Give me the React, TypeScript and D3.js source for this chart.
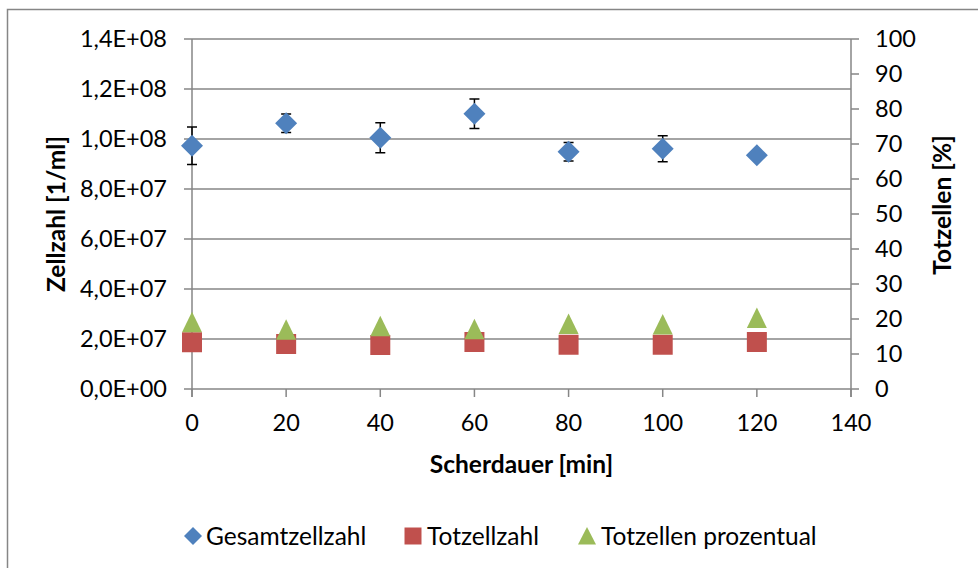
import React from "react";
import * as d3 from "d3";

const xValues = [0, 20, 40, 60, 80, 100, 120];
const gesamtzellzahl = [9.73e7, 1.063e8, 1.005e8, 1.101e8, 9.49e7, 9.61e7, 9.35e7];
const gesamtErr = [7.5e6, 3.7e6, 6.0e6, 5.9e6, 3.7e6, 5.2e6, 0];
const totzellzahl = [1.87e7, 1.8e7, 1.76e7, 1.88e7, 1.77e7, 1.77e7, 1.88e7];
const totzellenProzent = [19.1, 16.9, 17.9, 17.1, 18.6, 18.4, 20.3];
const leftTicks = [0, 2e7, 4e7, 6e7, 8e7, 1e8, 1.2e8, 1.4e8];
const leftTickLabels = ["0,0E+00", "2,0E+07", "4,0E+07", "6,0E+07", "8,0E+07", "1,0E+08", "1,2E+08", "1,4E+08"];
const rightTicks = [0, 10, 20, 30, 40, 50, 60, 70, 80, 90, 100];
const xTicks = [0, 20, 40, 60, 80, 100, 120, 140];
const legendLabels = ["Gesamtzellzahl", "Totzellzahl", "Totzellen prozentual"];

const BLUE = "#4F81BD";
const RED = "#C0504D";
const GREEN = "#9BBB59";
const GRID = "#868686";
const FONT = "Lato, 'Open Sans', sans-serif";

export default function App() {
  const W = 978, H = 568;
  const left = 192, right = 851, top = 39, bottom = 389;
  const x = d3.scaleLinear().domain([0, 140]).range([left, right]);
  const y = d3.scaleLinear().domain([0, 1.4e8]).range([bottom, top]);
  const y2 = d3.scaleLinear().domain([0, 100]).range([bottom, top]);
  const diamond = "M0,-11L11,0L0,11L-11,0Z";
  const square = "M-10,-10H10V10H-10Z";
  const triangle = "M0,-10.5L10,10L-10,10Z";

  return (
    <svg width={W} height={H} style={{ display: "block", position: "absolute", left: 0, top: 0 }} fontFamily={FONT}>
      <rect x={0} y={0} width={W} height={H} fill="#fff" />
      <rect x={7.5} y={9.5} width={980} height={570} fill="none" stroke={GRID} strokeWidth={1.5} />
      {leftTicks.map((t) => (
        <line key={"g" + t} x1={left} x2={right} y1={y(t)} y2={y(t)} stroke={GRID} strokeWidth={1.5} />
      ))}
      <line x1={left} x2={left} y1={top} y2={bottom + 8} stroke={GRID} strokeWidth={1.5} />
      {leftTicks.map((t) => (
        <line key={"lt" + t} x1={left - 8} x2={left} y1={y(t)} y2={y(t)} stroke={GRID} strokeWidth={1.5} />
      ))}
      {leftTicks.map((t, i) => (
        <text key={"ll" + t} x={167} y={y(t)} dy="0.36em" textAnchor="end" fontSize={23.5} fill="#000">
          {leftTickLabels[i]}
        </text>
      ))}
      <line x1={right} x2={right} y1={top} y2={bottom + 8} stroke={GRID} strokeWidth={1.5} />
      {rightTicks.map((t) => (
        <line key={"rt" + t} x1={right} x2={right + 8} y1={y2(t)} y2={y2(t)} stroke={GRID} strokeWidth={1.5} />
      ))}
      {rightTicks.map((t) => (
        <text key={"rl" + t} x={875} y={y2(t)} dy="0.36em" textAnchor="start" fontSize={23.5} fill="#000">
          {t}
        </text>
      ))}
      {xTicks.map((t) => (
        <line key={"xt" + t} x1={x(t)} x2={x(t)} y1={bottom} y2={bottom + 8} stroke={GRID} strokeWidth={1.5} />
      ))}
      {xTicks.map((t) => (
        <text key={"xl" + t} x={x(t)} y={423} dy="0.36em" textAnchor="middle" fontSize={23.5} fill="#000">
          {t}
        </text>
      ))}
      <text x={x(70)} y={464} dy="0.36em" textAnchor="middle" fontSize={24.5} fontWeight="bold" fill="#000">
        Scherdauer [min]
      </text>
      <text transform={`translate(56,214) rotate(-90)`} dy="0.36em" textAnchor="middle" fontSize={24.5} fontWeight="bold" fill="#000">
        Zellzahl [1/ml]
      </text>
      <text transform={`translate(942,205) rotate(-90)`} dy="0.36em" textAnchor="middle" fontSize={24.5} fontWeight="bold" fill="#000">
        Totzellen [%]
      </text>
      {xValues.map((xv, i) =>
        gesamtErr[i] > 0 ? (
          <g key={"e" + i} stroke="#000" strokeWidth={1.5}>
            <line x1={x(xv)} x2={x(xv)} y1={y(gesamtzellzahl[i] - gesamtErr[i])} y2={y(gesamtzellzahl[i] + gesamtErr[i])} />
            <line x1={x(xv) - 5} x2={x(xv) + 5} y1={y(gesamtzellzahl[i] - gesamtErr[i])} y2={y(gesamtzellzahl[i] - gesamtErr[i])} />
            <line x1={x(xv) - 5} x2={x(xv) + 5} y1={y(gesamtzellzahl[i] + gesamtErr[i])} y2={y(gesamtzellzahl[i] + gesamtErr[i])} />
          </g>
        ) : null
      )}
      {xValues.map((xv, i) => (
        <path key={"d" + i} d={diamond} transform={`translate(${x(xv)},${y(gesamtzellzahl[i])})`} fill={BLUE} />
      ))}
      {xValues.map((xv, i) => (
        <path key={"s" + i} d={square} transform={`translate(${x(xv)},${y(totzellzahl[i])})`} fill={RED} />
      ))}
      {xValues.map((xv, i) => (
        <path key={"t" + i} d={triangle} transform={`translate(${x(xv)},${y2(totzellenProzent[i])})`} fill={GREEN} />
      ))}
      <g>
        <path d="M0,-9L9,0L0,9L-9,0Z" transform="translate(193,536)" fill={BLUE} />
        <text x={206} y={536} dy="0.36em" fontSize={24.5} fill="#000">{legendLabels[0]}</text>
        <path d="M-8.5,-8.5H8.5V8.5H-8.5Z" transform="translate(413,536)" fill={RED} />
        <text x={427} y={536} dy="0.36em" fontSize={24.5} fill="#000">{legendLabels[1]}</text>
        <path d="M0,-9L9,8.5L-9,8.5Z" transform="translate(587,536)" fill={GREEN} />
        <text x={601} y={536} dy="0.36em" fontSize={24.5} fill="#000">{legendLabels[2]}</text>
      </g>
    </svg>
  );
}
